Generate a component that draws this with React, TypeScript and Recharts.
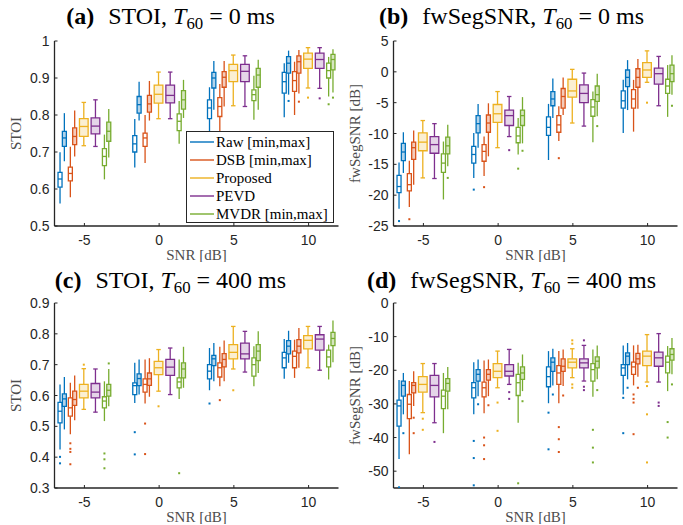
import React from "react";
import { ComposedChart, XAxis, YAxis, Scatter, ReferenceArea, ReferenceLine, Legend } from "recharts";

// SNR groups on the x axis
const SNR = [-5, 0, 5, 10];
// eight boxes per SNR group: min/max pairs for Raw, DSB and MVDR
const BOX_NAMES = ["Raw min", "Raw max", "DSB min", "DSB max", "Proposed", "PEVD", "MVDR min", "MVDR max"];
const BOX_METHOD = [0, 0, 1, 1, 2, 3, 4, 4];
const BOX_FILLED = [false, true, false, true, true, true, false, true];
const METHODS = ["Raw [min,max]", "DSB [min,max]", "Proposed", "PEVD", "MVDR [min,max]"];
const COLORS = ["#0072BD", "#D95319", "#EDB120", "#7E2F8E", "#77AC30"];

// box offsets (dB) around each SNR tick
const BOX_OFFSET = [-1.63, -1.34, -0.94, -0.65, -0.04, 0.74, 1.34, 1.63];
const NARROW_HW = 0.134;
const WIDE_HW = 0.29;
const CAP_HW = 0.15;

// stats per SNR group, per box: [lo, q1, median, q3, hi]
const stoiAnechoic = [
  [[0.561, 0.605, 0.627, 0.645, 0.699], [0.675, 0.715, 0.738, 0.756, 0.805], [0.578, 0.622, 0.642, 0.659, 0.714], [0.688, 0.72, 0.742, 0.765, 0.812],
   [0.717, 0.742, 0.769, 0.79, 0.834], [0.715, 0.749, 0.77, 0.792, 0.841], [0.626, 0.663, 0.688, 0.709, 0.747], [0.685, 0.729, 0.756, 0.781, 0.816]],
  [[0.658, 0.7, 0.722, 0.744, 0.789], [0.785, 0.805, 0.828, 0.85, 0.89], [0.67, 0.715, 0.738, 0.751, 0.8], [0.785, 0.808, 0.83, 0.853, 0.892],
   [0.79, 0.832, 0.856, 0.881, 0.916], [0.79, 0.833, 0.853, 0.881, 0.916], [0.722, 0.758, 0.783, 0.803, 0.838], [0.792, 0.816, 0.841, 0.866, 0.895]],
  [[0.745, 0.79, 0.819, 0.841, 0.875], [0.814, 0.873, 0.9, 0.915, 0.946], [0.75, 0.796, 0.823, 0.847, 0.884], [0.823, 0.875, 0.902, 0.917, 0.946],
   [0.825, 0.89, 0.92, 0.937, 0.962], [0.823, 0.89, 0.918, 0.937, 0.96], [0.787, 0.839, 0.855, 0.868, 0.906], [0.814, 0.875, 0.908, 0.926, 0.949]],
  [[0.794, 0.859, 0.89, 0.915, 0.94], [0.855, 0.913, 0.94, 0.958, 0.974], [0.8, 0.864, 0.893, 0.917, 0.944], [0.858, 0.913, 0.944, 0.96, 0.976],
   [0.873, 0.926, 0.951, 0.967, 0.982], [0.872, 0.926, 0.95, 0.967, 0.982], [0.85, 0.9, 0.92, 0.94, 0.957], [0.861, 0.922, 0.95, 0.964, 0.978]],
];
// outliers: [snr group, box, value]
const stoiAnechoicOut = [
  [3, 1, 0.838], [3, 3, 0.836], [3, 4, 0.847], [3, 5, 0.845], [3, 6, 0.829], [3, 7, 0.847],
];

const fwAnechoic = [
  [[-22.2, -19.6, -18.6, -16.8, -14.7], [-16.4, -14.4, -13.0, -11.6, -9.8], [-21.9, -19.3, -18.3, -16.5, -14.4], [-18.3, -14.2, -12.3, -11.4, -9.5],
   [-17.2, -12.8, -11.4, -9.9, -7.9], [-17.3, -13.2, -11.8, -10.5, -8.4], [-20.7, -16.3, -14.8, -13.3, -11.3], [-15.3, -13.3, -12.0, -10.6, -8.6]],
  [[-17.2, -14.8, -13.4, -12.1, -9.9], [-12.3, -9.9, -8.4, -7.1, -5.2], [-16.9, -14.5, -12.9, -11.8, -10.5], [-13.7, -9.8, -8.3, -7.0, -5.1],
   [-12.3, -8.2, -6.8, -5.3, -3.2], [-10.5, -8.7, -7.1, -6.2, -4.0], [-13.4, -11.5, -10.4, -9.0, -7.5], [-11.6, -8.7, -7.1, -6.2, -4.1]],
  [[-14.3, -10.3, -9.0, -7.3, -5.2], [-7.5, -5.5, -4.4, -3.2, -1.1], [-11.2, -9.8, -8.6, -7.1, -5.6], [-7.0, -5.9, -4.0, -2.7, -0.9],
   [-8.3, -4.1, -3.1, -1.2, 0.4], [-8.8, -5.0, -3.5, -2.1, -0.2], [-11.4, -7.2, -5.7, -4.5, -3.2], [-7.2, -4.8, -3.7, -2.3, -0.3]],
  [[-9.9, -5.9, -4.7, -3.1, -1.3], [-6.2, -2.4, -0.9, 0.3, 1.9], [-9.7, -5.9, -4.4, -2.9, -1.3], [-6.0, -2.5, -0.9, 0.5, 2.1],
   [-1.7, -0.9, 0.3, 1.5, 3.4], [-5.5, -2.0, -0.3, 0.6, 2.5], [-7.3, -3.5, -2.3, -1.2, 1.1], [-3.7, -1.6, -0.3, 1.1, 2.7]],
];
const fwAnechoicOut = [
  [0, 0, -24.2], [0, 2, -23.9], [0, 7, -17.2],
  [1, 0, -19.1], [1, 2, -18.7], [1, 5, -12.7], [1, 6, -15.7], [1, 7, -12.8],
  [2, 2, -14.0], [2, 7, -8.8],
  [3, 4, -5.0], [3, 7, -5.5],
];

const stoiReverb = [
  [[0.425, 0.511, 0.549, 0.578, 0.636], [0.49, 0.565, 0.589, 0.605, 0.66], [0.474, 0.533, 0.56, 0.592, 0.641], [0.52, 0.568, 0.587, 0.614, 0.665],
   [0.555, 0.592, 0.614, 0.636, 0.687], [0.546, 0.592, 0.611, 0.639, 0.686], [0.517, 0.56, 0.582, 0.596, 0.646], [0.565, 0.598, 0.617, 0.636, 0.686]],
  [[0.576, 0.603, 0.632, 0.641, 0.706], [0.603, 0.632, 0.655, 0.67, 0.717], [0.574, 0.611, 0.636, 0.654, 0.717], [0.596, 0.633, 0.654, 0.673, 0.721],
   [0.614, 0.668, 0.69, 0.711, 0.749], [0.603, 0.665, 0.692, 0.717, 0.754], [0.589, 0.625, 0.644, 0.657, 0.717], [0.625, 0.657, 0.686, 0.706, 0.758]],
  [[0.617, 0.654, 0.679, 0.7, 0.754], [0.646, 0.697, 0.719, 0.73, 0.77], [0.63, 0.66, 0.69, 0.706, 0.758], [0.646, 0.693, 0.717, 0.736, 0.778],
   [0.686, 0.719, 0.74, 0.765, 0.824], [0.676, 0.719, 0.735, 0.77, 0.808], [0.63, 0.663, 0.7, 0.722, 0.76], [0.673, 0.713, 0.744, 0.765, 0.808]],
  [[0.654, 0.69, 0.722, 0.74, 0.783], [0.706, 0.735, 0.76, 0.778, 0.81], [0.657, 0.69, 0.727, 0.744, 0.781], [0.69, 0.738, 0.76, 0.781, 0.819],
   [0.69, 0.751, 0.779, 0.794, 0.824], [0.682, 0.747, 0.783, 0.797, 0.824], [0.652, 0.693, 0.725, 0.747, 0.765], [0.708, 0.762, 0.785, 0.805, 0.843]],
];
const stoiReverbOut = [
  [0, 0, 0.401], [0, 0, 0.38], [0, 2, 0.445], [0, 2, 0.427], [0, 2, 0.417], [0, 2, 0.377], [0, 4, 0.7],
  [0, 6, 0.412], [0, 6, 0.393], [0, 6, 0.364], [0, 7, 0.704],
  [1, 0, 0.481], [1, 0, 0.409], [1, 2, 0.509], [1, 2, 0.41], [1, 4, 0.565], [1, 6, 0.348],
  [2, 0, 0.574], [2, 2, 0.585], [2, 4, 0.617],
];

const fwReverb = [
  [[-46.4, -36.6, -30.6, -28.9, -22.9], [-33.1, -27.7, -24.5, -23.2, -20.8], [-45.0, -34.4, -30.1, -27.2, -23.2], [-30.6, -26.7, -24.5, -23.7, -20.3],
   [-32.6, -26.5, -24.2, -21.9, -18.0], [-35.6, -27.9, -24.5, -21.5, -18.0], [-38.7, -31.4, -27.7, -25.9, -20.8], [-31.6, -26.2, -23.9, -22.5, -19.0]],
  [[-33.1, -28.2, -25.2, -23.7, -17.6], [-27.7, -23.2, -21.2, -19.8, -16.8], [-32.8, -27.9, -25.2, -23.5, -17.1], [-27.7, -22.9, -21.2, -19.8, -16.8],
   [-25.2, -22.2, -20.3, -18.0, -14.3], [-24.2, -21.7, -20.3, -18.3, -13.8], [-35.6, -27.5, -23.7, -21.2, -17.8], [-26.2, -22.7, -20.8, -19.0, -15.3]],
  [[-29.8, -24.9, -21.9, -19.0, -14.3], [-24.5, -20.3, -17.6, -16.3, -13.6], [-29.8, -24.2, -20.8, -18.6, -14.3], [-24.7, -20.3, -18.8, -16.6, -13.8],
   [-22.2, -19.3, -17.6, -16.6, -13.6], [-23.2, -19.3, -17.8, -16.6, -12.6], [-27.9, -23.2, -19.8, -18.0, -13.8], [-22.7, -19.3, -17.3, -16.0, -12.6]],
  [[-27.2, -21.5, -19.3, -18.3, -12.6], [-22.7, -18.3, -15.8, -14.8, -11.9], [-24.5, -21.2, -19.0, -17.6, -12.6], [-21.9, -18.1, -16.6, -15.0, -12.4],
   [-23.5, -18.6, -15.8, -14.3, -9.4], [-23.5, -18.8, -16.3, -14.6, -9.1], [-26.2, -20.8, -17.6, -15.8, -12.8], [-21.2, -17.0, -15.3, -13.6, -10.4]],
];
const fwReverbOut = [
  [0, 0, -54.8], [0, 1, -38.7], [0, 3, -34.1], [0, 3, -38.7], [0, 4, -34.4], [0, 4, -37.7], [0, 5, -41.3],
  [1, 0, -41.0], [1, 0, -46.1], [1, 0, -54.2], [1, 1, -30.1], [1, 2, -40.0], [1, 2, -42.3], [1, 2, -46.4], [1, 3, -30.4],
  [1, 4, -29.6], [1, 4, -38.0], [1, 5, -26.5], [1, 5, -28.5], [1, 6, -53.6], [1, 7, -29.2],
  [2, 0, -32.6], [2, 0, -43.5], [2, 1, -27.2], [2, 2, -36.9], [2, 2, -40.5], [2, 2, -44.3], [2, 3, -27.5],
  [2, 4, -11.1], [2, 4, -12.1], [2, 4, -24.2], [2, 4, -25.2], [2, 5, -11.1], [2, 5, -24.9], [2, 5, -25.9],
  [2, 6, -37.7], [2, 6, -43.0], [2, 6, -47.4], [2, 7, -25.9],
  [3, 0, -28.2], [3, 0, -38.7], [3, 1, -25.2], [3, 2, -27.2], [3, 2, -28.5], [3, 2, -29.6], [3, 2, -39.0], [3, 3, -25.2],
  [3, 4, -24.7], [3, 4, -33.1], [3, 4, -47.4], [3, 5, -29.6], [3, 5, -30.6], [3, 6, -35.4], [3, 6, -40.0], [3, 7, -24.2],
];

const stoiTicksA = [0.5, 0.6, 0.7, 0.8, 0.9, 1];
const fwTicksA = [-25, -20, -15, -10, -5, 0, 5];
const stoiTicksR = [0.3, 0.4, 0.5, 0.6, 0.7, 0.8, 0.9];
const fwTicksR = [-50, -40, -30, -20, -10, 0];

const SERIF = '"Liberation Serif", "Times New Roman", Times, serif';
const SANS = '"Liberation Sans", Arial, Helvetica, sans-serif';
const INK = "#262626";
const CHART_W = 341;
const CHART_H = 262;

const PANELS = [
  { tag: "a", metric: "STOI", t60: "0", stats: stoiAnechoic, outliers: stoiAnechoicOut, domain: [0.5, 1], ticks: stoiTicksA, ylabel: "STOI", left: 0, top: 0, legend: true },
  { tag: "b", metric: "fwSegSNR", t60: "0", stats: fwAnechoic, outliers: fwAnechoicOut, domain: [-25, 5], ticks: fwTicksA, ylabel: "fwSegSNR [dB]", left: 339, top: 0, legend: false },
  { tag: "c", metric: "STOI", t60: "400", stats: stoiReverb, outliers: stoiReverbOut, domain: [0.3, 0.9], ticks: stoiTicksR, ylabel: "STOI", left: 0, top: 262, legend: false },
  { tag: "d", metric: "fwSegSNR", t60: "400", stats: fwReverb, outliers: fwReverbOut, domain: [-55, 0], ticks: fwTicksR, ylabel: "fwSegSNR [dB]", left: 339, top: 262, legend: false },
];

function XTick(props: any) {
  const { x, y, payload } = props;
  return (
    <g>
      <line x1={x} x2={x} y1={y} y2={y - 3} stroke={INK} strokeWidth={1} />
      <text x={x} y={y + 19} textAnchor="middle" fontFamily={SANS} fontSize={14} fill={INK}>
        {payload.value}
      </text>
    </g>
  );
}

function YTick(props: any) {
  const { x, y, payload } = props;
  return (
    <g>
      <line x1={x} x2={x + 3} y1={y} y2={y} stroke={INK} strokeWidth={1} />
      <text x={x - 5} y={y} dy="0.36em" textAnchor="end" fontFamily={SANS} fontSize={14} fill={INK}>
        {String(payload.value)}
      </text>
    </g>
  );
}

// box plot pieces drawn in data space via reference lines / areas
function boxElements(stats: number[][][], id: string) {
  const whiskers: React.ReactNode[] = [];
  const boxes: React.ReactNode[] = [];
  const medians: React.ReactNode[] = [];
  stats.forEach((group, g) =>
    group.forEach(([lo, q1, med, q3, hi], b) => {
      const color = COLORS[BOX_METHOD[b]];
      const wide = BOX_METHOD[b] === 2 || BOX_METHOD[b] === 3;
      const hw = wide ? WIDE_HW : NARROW_HW;
      const x = SNR[g] + BOX_OFFSET[b];
      const k = `${id}-${g}-${b}`;
      const line = { stroke: color, strokeWidth: 1.3, ifOverflow: "visible" as const };
      whiskers.push(<ReferenceLine key={`${k}-lw`} segment={[{ x, y: lo }, { x, y: q1 }]} {...line} />);
      whiskers.push(<ReferenceLine key={`${k}-hw`} segment={[{ x, y: q3 }, { x, y: hi }]} {...line} />);
      if (wide) {
        whiskers.push(<ReferenceLine key={`${k}-lc`} segment={[{ x: x - CAP_HW, y: lo }, { x: x + CAP_HW, y: lo }]} {...line} />);
        whiskers.push(<ReferenceLine key={`${k}-hc`} segment={[{ x: x - CAP_HW, y: hi }, { x: x + CAP_HW, y: hi }]} {...line} />);
      }
      boxes.push(
        <ReferenceArea
          key={`${k}-box`}
          x1={x - hw}
          x2={x + hw}
          y1={q1}
          y2={q3}
          fill={BOX_FILLED[b] ? color : "#ffffff"}
          fillOpacity={BOX_FILLED[b] ? (wide ? 0.2 : 0.3) : 1}
          stroke={color}
          strokeWidth={1.3}
          ifOverflow="visible"
        />
      );
      medians.push(<ReferenceLine key={`${k}-med`} segment={[{ x: x - hw, y: med }, { x: x + hw, y: med }]} {...line} />);
    })
  );
  return [...whiskers, ...boxes, ...medians];
}

function OutlierDot(props: any) {
  const { cx, cy, payload } = props;
  if (cx == null || cy == null) return null;
  return <rect x={cx - 1} y={cy - 1} width={2} height={2} fill={COLORS[BOX_METHOD[payload.box]]} />;
}

function LegendBox() {
  return (
    <div style={{ width: 148, height: 92, boxSizing: "border-box", border: `1.3px solid ${INK}`, background: "#fff", paddingTop: 1 }}>
      {METHODS.map((m, i) => (
        <div key={m} style={{ position: "relative", height: 18, lineHeight: "18px", fontFamily: SERIF, fontSize: 15, color: "#000" }}>
          <svg width={26} height={18} style={{ position: "absolute", left: 2, top: 0 }}>
            <line x1={1} x2={25} y1={9} y2={9} stroke={COLORS[i]} strokeWidth={1.4} />
          </svg>
          <span style={{ position: "absolute", left: 29, top: 0, whiteSpace: "nowrap" }}>{m}</span>
        </div>
      ))}
    </div>
  );
}

function Title({ tag, metric, t60, left, top }: { tag: string; metric: string; t60: string; left: number; top: number }) {
  return (
    <div
      style={{
        position: "absolute",
        left: left === 0 ? 0 : 341,
        top: top === 0 ? 1 : 265,
        width: 341,
        textAlign: "center",
        fontFamily: SERIF,
        fontSize: 24,
        lineHeight: "30px",
        whiteSpace: "nowrap",
        color: "#000",
      }}
    >
      <b style={{ marginRight: 14 }}>({tag})</b>
      {metric}, <i>T</i>
      <span style={{ fontSize: "0.7em", position: "relative", top: "0.3em" }}>60</span> = {t60} ms
    </div>
  );
}

function Panel(p: (typeof PANELS)[number]) {
  const outData = p.outliers.map(([g, b, v]) => ({ x: SNR[g] + BOX_OFFSET[b], y: v, box: b }));
  return (
    <div style={{ position: "absolute", left: p.left, top: p.top, width: CHART_W, height: CHART_H }}>
      <ComposedChart width={CHART_W} height={CHART_H} margin={{ top: 41, right: 2.5, bottom: 2, left: 0 }}>
        <XAxis
          type="number"
          dataKey="x"
          domain={[-7, 12]}
          ticks={SNR}
          allowDataOverflow
          height={34}
          tickSize={0}
          tickMargin={0}
          tickLine={false}
          axisLine={{ stroke: INK, strokeWidth: 1.3 }}
          tick={<XTick />}
          label={{ value: "SNR [dB]", position: "insideBottom", offset: 0, fontFamily: SERIF, fontSize: 15, fill: "#4d4d4d" }}
        />
        <YAxis
          type="number"
          dataKey="y"
          domain={p.domain}
          ticks={p.ticks}
          allowDataOverflow
          width={54.5}
          tickSize={0}
          tickMargin={0}
          tickLine={false}
          axisLine={{ stroke: INK, strokeWidth: 1.3 }}
          tick={<YTick />}
          label={{ value: p.ylabel, angle: -90, position: "insideLeft", offset: 16, fontFamily: SERIF, fontSize: 15, fill: "#4d4d4d", style: { textAnchor: "middle" } }}
        />
        {boxElements(p.stats, p.tag)}
        <Scatter name="outliers" data={outData} dataKey="y" shape={<OutlierDot />} isAnimationActive={false} legendType="none" />
        {p.legend && (
          <Legend
            layout="vertical"
            align="center"
            verticalAlign="middle"
            wrapperStyle={{ left: 186, top: 130.5, width: 148, height: 92 }}
            content={() => <LegendBox />}
          />
        )}
      </ComposedChart>
    </div>
  );
}

export default function App() {
  return (
    <div style={{ position: "absolute", left: 0, top: 0, width: 683, height: 525, background: "#fff", overflow: "hidden" }}>
      {PANELS.map((p) => (
        <Panel key={p.tag} {...p} />
      ))}
      {PANELS.map((p) => (
        <Title key={`t-${p.tag}`} tag={p.tag} metric={p.metric} t60={p.t60} left={p.left} top={p.top} />
      ))}
    </div>
  );
}
